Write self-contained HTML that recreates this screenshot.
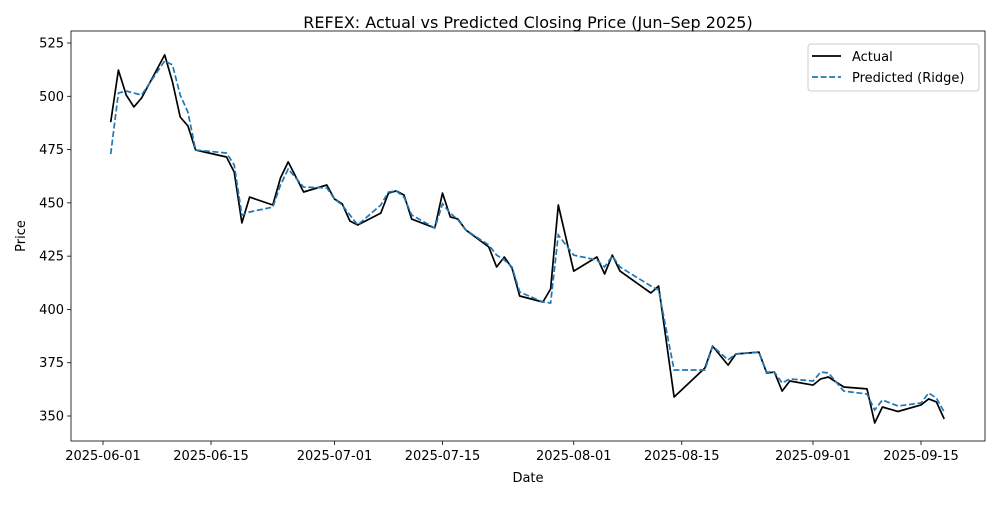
<!DOCTYPE html>
<html><head><meta charset="utf-8"><style>
body{margin:0;background:#fff}
svg text{font-family:"DejaVu Sans","Liberation Sans",sans-serif;fill:#000}
</style></head><body>
<svg id="chart" width="1000" height="500" viewBox="0 0 1000 500" xmlns="http://www.w3.org/2000/svg">
<rect width="1000" height="500" fill="#fff"/>
<text x="528" y="28" text-anchor="middle" font-size="16">REFEX: Actual vs Predicted Closing Price (Jun–Sep 2025)</text>
<g id="axes"></g>
<g id="series"></g>
<text x="528" y="482" text-anchor="middle" font-size="13">Date</text>
<text transform="translate(25,236) rotate(-90)" text-anchor="middle" font-size="13">Price</text>
<g>
<rect x="808" y="44" width="171" height="47" rx="3" fill="#fff" stroke="#ccc"/>
<line x1="812" y1="56" x2="841" y2="56" stroke="#000" stroke-width="1.7"/>
<text x="852" y="61" font-size="13">Actual</text>
<line x1="812" y1="77" x2="841" y2="77" stroke="#1f77b4" stroke-width="1.7" stroke-dasharray="6,2.6"/>
<text x="852" y="82" font-size="13">Predicted (Ridge)</text>
</g>
</svg>
<script>
const dates = ["2025-06-02","2025-06-03","2025-06-04","2025-06-05","2025-06-06","2025-06-09","2025-06-10","2025-06-11","2025-06-12","2025-06-13","2025-06-17","2025-06-18","2025-06-19","2025-06-20","2025-06-23","2025-06-24","2025-06-25","2025-06-27","2025-06-30","2025-07-01","2025-07-02","2025-07-03","2025-07-04","2025-07-07","2025-07-08","2025-07-09","2025-07-10","2025-07-11","2025-07-14","2025-07-15","2025-07-16","2025-07-17","2025-07-18","2025-07-21","2025-07-22","2025-07-23","2025-07-24","2025-07-25","2025-07-28","2025-07-29","2025-07-30","2025-08-01","2025-08-04","2025-08-05","2025-08-06","2025-08-07","2025-08-11","2025-08-12","2025-08-14","2025-08-18","2025-08-19","2025-08-21","2025-08-22","2025-08-25","2025-08-26","2025-08-27","2025-08-28","2025-08-29","2025-09-01","2025-09-02","2025-09-03","2025-09-05","2025-09-08","2025-09-09","2025-09-10","2025-09-12","2025-09-15","2025-09-16","2025-09-17","2025-09-18"];
const actual = [487.9,512.3,500.6,495,499.2,519.4,506.7,490.3,486.1,474.8,471.5,464.5,440.6,452.7,449,461.7,469.2,455.1,458.4,451.8,449.5,441.5,439.6,445.2,454.6,455.6,453.7,442.4,438.2,454.6,443.4,442.4,437.3,429.3,419.9,424.6,419.4,406.3,403.5,409.6,449,418,424.6,416.6,425.5,418,407.7,411,358.9,372.5,382.8,373.9,379.1,380,370.2,370.6,361.7,366.4,364.5,367.4,368.3,363.6,362.7,346.7,354.2,352.1,355.2,358,356.6,348.6];
const predicted = [472.9,501.5,502.5,501.5,500.6,516.6,514.7,500.6,492.6,474.8,473.4,467.8,444.3,445.7,448,458.4,465.9,457.4,457,451.8,449,444.3,439.6,449,455.1,455.6,452.7,444.3,438.2,449.5,445.2,442,437.3,430.2,425.5,423.2,419.9,408.2,403.5,403,434.9,425.5,423.2,419.9,425.1,419.9,411,409.1,371.6,371.6,382.8,376.3,379.1,380,370.6,370.6,365.5,367.4,366.4,370.6,370.2,361.7,360.3,352.8,357.5,354.7,356.1,360.8,358.4,351.9];
const yTicks = [350,375,400,425,450,475,500,525];
const xTickLabels = ["2025-06-01","2025-06-15","2025-07-01","2025-07-15","2025-08-01","2025-08-15","2025-09-01","2025-09-15"];

const NS="http://www.w3.org/2000/svg";
const L=71,R=985,T=31,B=441;
const day0=Date.UTC(2025,5,1);
function dayOf(s){const p=s.split("-");return (Date.UTC(+p[0],+p[1]-1,+p[2])-day0)/86400000;}
function xs(s){return 103+dayOf(s)*7.717;}
function ys(v){return 416-(v-350)*2.1314;}
function mk(tag,attrs,parent){const e=document.createElementNS(NS,tag);for(const k in attrs)e.setAttribute(k,attrs[k]);parent.appendChild(e);return e;}
const ax=document.getElementById("axes"), sg=document.getElementById("series");
yTicks.forEach(v=>{
  const y=ys(v);
  const t=mk("line",{x1:L-4,y1:y,x2:L,y2:y,stroke:"#000","stroke-width":0.8},ax);
  
  
  const tx=mk("text",{x:L-7,y:y+4.5,"text-anchor":"end","font-size":"13"},ax);
  tx.textContent=v;
  
  
});
xTickLabels.forEach(s=>{
  const x=xs(s);
  const t=mk("line",{x1:x,y1:B,x2:x,y2:B+4,stroke:"#000","stroke-width":0.8},ax);
  
  
  const tx=mk("text",{x:x,y:B+19,"text-anchor":"middle","font-size":"13"},ax);
  tx.textContent=s;
  
  
});
const frame=mk("rect",{x:L,y:T,width:R-L,height:B-T,fill:"none",stroke:"#000","stroke-width":0.8},ax);


function pts(vals){return vals.map((v,i)=>xs(dates[i]).toFixed(1)+","+ys(v).toFixed(1)).join(" ");}
const la=mk("polyline",{points:pts(actual),fill:"none",stroke:"#000","stroke-width":1.7,"stroke-linejoin":"round"},sg);


const lp=mk("polyline",{points:pts(predicted),fill:"none",stroke:"#1f77b4","stroke-width":1.7,"stroke-dasharray":"6,2.6"},sg);


</script>
</body></html>
